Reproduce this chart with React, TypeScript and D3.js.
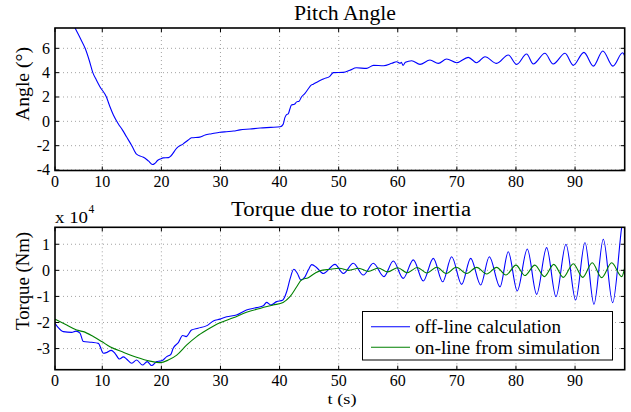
import React from "react";
import * as d3 from "d3";

// ---------- data ----------
// Pitch angle (deg) vs time (s)
const pitchT = [4.5, 5.4, 6.3, 7.1, 7.8, 8.4, 9.0, 9.6, 10.7, 11.3, 11.9, 12.7, 13.4, 14.1, 15.0, 15.8, 16.7, 17.3, 17.8, 18.5, 18.9, 19.4, 19.8, 20.3, 21.2, 21.6, 22.6, 23.7, 24.5, 25.1, 26.5, 27.4, 28.5, 29.9, 31.0, 32.2, 33.3, 35.0, 36.7, 38.5, 40.1, 40.6, 40.9, 41.1, 41.5, 41.8, 42.0, 42.5, 42.9, 43.3, 43.7, 44.3, 44.9, 45.3, 45.7, 46.6, 47.5, 48.5, 49.1, 50.8, 51.9, 53.0, 54.7, 55.9, 57.6, 59.0, 59.8, 60.4, 60.6, 60.9, 61.3, 62.35, 63.76, 65.45, 66.86, 68.27, 69.97, 71.93, 73.35, 74.76, 76.73, 78.7, 80.12, 81.8, 82.93, 84.9, 86.3, 88.3, 89.7, 91.5, 93.1, 94.7, 96.4, 98.05, 98.4];
const pitchV = [8.6, 7.67, 6.8, 6.0, 5.0, 4.0, 3.4, 2.85, 2.0, 1.2, 0.5, -0.2, -0.7, -1.27, -2.0, -2.7, -2.9, -3.05, -3.25, -3.55, -3.45, -3.2, -3.1, -3.0, -2.98, -2.85, -2.2, -1.85, -1.55, -1.35, -1.3, -1.12, -1.02, -0.9, -0.85, -0.8, -0.7, -0.63, -0.55, -0.5, -0.45, -0.25, 0.3, 0.5, 0.65, 1.1, 1.35, 1.4, 1.6, 1.65, 2.0, 2.3, 2.7, 2.95, 3.05, 3.3, 3.5, 3.7, 4.0, 4.02, 4.2, 4.4, 4.35, 4.6, 4.57, 4.77, 4.9, 4.77, 4.85, 4.6, 4.85, 4.98, 4.68, 5.04, 4.76, 5.12, 4.82, 5.26, 4.82, 5.31, 4.76, 5.45, 4.68, 5.53, 4.71, 5.59, 4.71, 5.59, 4.6, 5.67, 4.54, 5.78, 4.54, 5.64, 5.37];

// Torque (x 10^4 Nm), off-line calculation
const offT = [2.0, 2.56, 3.4, 4.82, 5.55, 6.23, 6.8, 8.2, 9.33, 10.2, 10.75, 11.5, 12.15, 12.9, 13.56, 14.1, 15.0, 15.8, 16.8, 17.6, 18.36, 19.2, 19.77, 20.3, 20.9, 21.6, 22.0, 22.9, 23.6, 24.2, 25.1, 26.2, 27.7, 28.8, 29.9, 31.05, 32.7, 34.4, 36.1, 37.25, 37.8, 38.5, 39.5, 40.5, 41.2, 41.8, 42.4, 43.0, 43.6, 44.3, 44.86, 45.45, 46.3, 47.4, 49.38, 50.79, 52.48, 54.17, 55.86, 57.67, 59.24, 60.93, 62.63, 64.32, 66.01, 67.6, 69.12, 70.81, 72.34, 74.03, 75.49, 77.3, 78.7, 80.22, 81.92, 83.5, 85.19, 86.77, 88.46, 90.1, 91.68, 93.2, 94.78, 96.36, 97.9, 98.4];
const offV = [-2.03, -2.2, -2.35, -2.38, -2.33, -2.41, -2.73, -2.76, -2.8, -3.18, -3.15, -3.07, -3.18, -3.4, -3.32, -3.4, -3.56, -3.44, -3.63, -3.5, -3.65, -3.5, -3.48, -3.44, -3.31, -3.22, -2.99, -2.76, -2.5, -2.54, -2.29, -2.22, -2.12, -1.94, -1.87, -1.78, -1.71, -1.52, -1.43, -1.36, -1.23, -1.33, -1.2, -1.15, -0.82, -0.31, 0.04, -0.11, -0.37, -0.25, 0.01, 0.22, 0.1, -0.12, 0.23, -0.12, 0.27, -0.18, 0.27, -0.24, 0.36, -0.31, 0.4, -0.41, 0.46, -0.44, 0.52, -0.54, 0.46, -0.56, 0.52, -0.63, 0.71, -0.79, 0.82, -0.92, 0.87, -1.01, 1.0, -1.14, 1.07, -1.3, 1.19, -1.24, 1.67, 2.4];

// Torque (x 10^4 Nm), on-line from simulation
const onT = [2.0, 3.98, 5.67, 6.8, 8.48, 9.9, 11.3, 13.56, 15.8, 18.07, 19.77, 21.17, 22.6, 24.3, 25.97, 27.67, 29.92, 32.17, 34.4, 36.7, 38.9, 40.6, 41.76, 42.9, 43.7, 44.86, 46.0, 46.8, 48.5, 50.1, 51.7, 53.4, 55.0, 56.7, 58.3, 60.0, 61.6, 63.3, 64.9, 66.6, 68.2, 69.9, 71.66, 73.35, 75.05, 76.73, 78.3, 80.0, 81.5, 83.2, 84.8, 86.4, 88.0, 89.7, 91.3, 92.9, 94.5, 96.2, 97.9, 98.4];
const onV = [-1.87, -2.1, -2.29, -2.35, -2.54, -2.73, -2.93, -3.14, -3.33, -3.48, -3.54, -3.44, -3.25, -2.86, -2.54, -2.29, -2.01, -1.82, -1.61, -1.46, -1.33, -1.23, -1.01, -0.63, -0.37, -0.28, -0.11, -0.02, 0.04, 0.08, 0.0, 0.08, -0.04, 0.09, -0.06, 0.1, -0.09, 0.11, -0.1, 0.12, -0.12, 0.12, -0.12, 0.114, -0.14, 0.114, -0.18, 0.2, -0.2, 0.2, -0.24, 0.23, -0.27, 0.255, -0.27, 0.29, -0.28, 0.29, -0.24, 0.1];

const xTickValues = [2, 10, 20, 30, 40, 50, 60, 70, 80, 90];
const xTickLabels = ["0", "10", "20", "30", "40", "50", "60", "70", "80", "90"];
const pitchTicks = [-4, -2, 0, 2, 4, 6];
const torqueTicks = [-3, -2, -1, 0, 1];
const legendLabels = ["off-line calculation", "on-line from simulation"];
const seriesColors = ["#0000ff", "#008000"];

const FONT = "Liberation Serif, serif";

function Panel({ top, bottom, yDomain, yTicks, series, clipId }) {
  const left = 55;
  const right = 624.7;
  const x = d3.scaleLinear().domain([2, 98.4]).range([left, right]);
  const y = d3.scaleLinear().domain(yDomain).range([bottom, top]);
  const line = d3
    .line()
    .x((d) => x(d[0]))
    .y((d) => y(d[1]))
    .curve(d3.curveMonotoneX);
  return (
    <g>
      <defs>
        <clipPath id={clipId}>
          <rect x={left} y={top} width={right - left} height={bottom - top} />
        </clipPath>
      </defs>
      <rect x={left} y={top} width={right - left} height={bottom - top} fill="#fff" />
      {xTickValues.slice(1).map((t) => (
        <line key={"gx" + t} x1={x(t)} x2={x(t)} y1={top} y2={bottom} stroke="#8c8c8c" strokeWidth={0.8} strokeDasharray="1,3" />
      ))}
      {yTicks.map((t) => (
        <line key={"gy" + t} x1={left} x2={right} y1={y(t)} y2={y(t)} stroke="#8c8c8c" strokeWidth={0.8} strokeDasharray="1,3" />
      ))}
      <g clipPath={`url(#${clipId})`}>
        {series.map((s, i) => (
          <path key={i} d={line(s.t.map((t, j) => [t, s.v[j]]))} fill="none" stroke={s.color} strokeWidth={1.1} />
        ))}
      </g>
      {xTickValues.map((t) => (
        <g key={"tx" + t}>
          <line x1={x(t)} x2={x(t)} y1={bottom} y2={bottom - 4} stroke="#000" />
          <line x1={x(t)} x2={x(t)} y1={top} y2={top + 4} stroke="#000" />
        </g>
      ))}
      {yTicks.map((t) => (
        <g key={"ty" + t}>
          <line x1={left} x2={left + 4} y1={y(t)} y2={y(t)} stroke="#000" />
          <line x1={right} x2={right - 4} y1={y(t)} y2={y(t)} stroke="#000" />
        </g>
      ))}
      <rect x={left} y={top} width={right - left} height={bottom - top} fill="none" stroke="#000" strokeWidth={1.6} />
      {xTickValues.map((t, i) => (
        <text key={"lx" + t} x={x(t)} y={bottom + 16.5} textAnchor="middle" fontSize={16} fontFamily={FONT}>
          {xTickLabels[i]}
        </text>
      ))}
      {yTicks.map((t) => (
        <text key={"ly" + t} x={50} y={y(t)} dy="0.34em" textAnchor="end" fontSize={16} fontFamily={FONT}>
          {t}
        </text>
      ))}
    </g>
  );
}

export default function App() {
  return (
    <svg width={631} height={412} style={{ position: "absolute", left: 0, top: 0, background: "#fff" }}>
      <rect x={0} y={0} width={631} height={412} fill="#fff" />
      <Panel
        top={28}
        bottom={170.5}
        yDomain={[-4.04, 7.67]}
        yTicks={pitchTicks}
        clipId="clipTop"
        series={[{ t: pitchT, v: pitchV, color: seriesColors[0] }]}
      />
      <Panel
        top={227.3}
        bottom={369.7}
        yDomain={[-3.81, 1.65]}
        yTicks={torqueTicks}
        clipId="clipBottom"
        series={[
          { t: offT, v: offV, color: seriesColors[0] },
          { t: onT, v: onV, color: seriesColors[1] },
        ]}
      />
      <text x={345} y={19.5} textAnchor="middle" fontSize={20} fontFamily={FONT} textLength={102} lengthAdjust="spacingAndGlyphs">Pitch Angle</text>
      <text x={351} y={216} textAnchor="middle" fontSize={20} fontFamily={FONT} textLength={240} lengthAdjust="spacingAndGlyphs">Torque due to rotor inertia</text>
      <text transform="translate(29,84) rotate(-90)" textAnchor="middle" fontSize={19} fontFamily={FONT} textLength={74} lengthAdjust="spacingAndGlyphs">Angle (°)</text>
      <text transform="translate(29,281) rotate(-90)" textAnchor="middle" fontSize={19} fontFamily={FONT} textLength={98} lengthAdjust="spacingAndGlyphs">Torque (Nm)</text>
      <text x={342} y={403.5} textAnchor="middle" fontSize={15} fontFamily={FONT} textLength={29} lengthAdjust="spacingAndGlyphs">t (s)</text>
      <text x={55} y={223.3} fontSize={16.5} fontFamily={FONT} textLength={33} lengthAdjust="spacingAndGlyphs">x 10</text>
      <text x={88.5} y={213} fontSize={11.5} fontFamily={FONT}>4</text>
      <g>
        <rect x={362.5} y={311.5} width={250} height={48.5} fill="#fff" stroke="#000" strokeWidth={1} />
        {legendLabels.map((lab, i) => (
          <g key={lab}>
            <line x1={371} x2={410} y1={326.7 + i * 20.6} y2={326.7 + i * 20.6} stroke={seriesColors[i]} strokeWidth={1.1} />
            <text x={415} y={333 + i * 20.5} fontSize={18} fontFamily={FONT} textLength={i === 0 ? 146 : 185} lengthAdjust="spacingAndGlyphs">{lab}</text>
          </g>
        ))}
      </g>
    </svg>
  );
}
